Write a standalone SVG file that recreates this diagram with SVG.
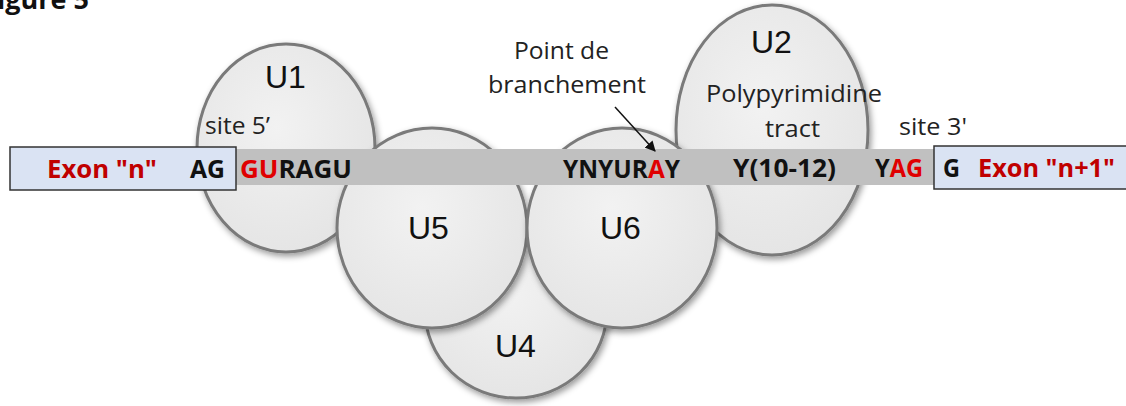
<svg xmlns="http://www.w3.org/2000/svg" width="1126" height="406" viewBox="0 0 1126 406">
<style>
.snrp{fill:url(#g);stroke:#7a7a7a;stroke-width:3;filter:url(#sh)}
.ul{font-family:"Liberation Sans",Arial,sans-serif;font-size:32px;fill:#111}
.lb{font-family:"Open Sans","Liberation Sans",sans-serif;font-size:23px;fill:#222}
.sq{font-family:"Open Sans","Liberation Sans",sans-serif;font-size:25px;font-weight:bold;fill:#111}
.red{fill:#c00000}
.rd{fill:#e00000}
.box{fill:#dae3f3;stroke:#333;stroke-width:1.5}
</style>
<defs>
<radialGradient id="g" cx="0.45" cy="0.4" r="0.65">
<stop offset="0" stop-color="#f2f2f2"/>
<stop offset="1" stop-color="#e4e4e4"/>
</radialGradient>
<filter id="sh" x="-20%" y="-20%" width="140%" height="140%">
<feDropShadow dx="2" dy="3" stdDeviation="3" flood-color="#000" flood-opacity="0.4"/>
</filter>
<marker id="ah" viewBox="0 0 10 10" refX="9" refY="5" markerWidth="7" markerHeight="7" orient="auto">
<path d="M0,0 L10,5 L0,10 z" fill="#111"/>
</marker>
</defs>
<rect width="1126" height="406" fill="#fff"/>
<text x="89" y="9" text-anchor="end" font-family="Open Sans,Liberation Sans,sans-serif" font-weight="bold" font-size="27" fill="#111">Figure 5</text>

<g id="U4"><ellipse class="snrp" cx="516" cy="310" rx="91" ry="88"/><text class="ul" x="495" y="357">U4</text></g>
<g id="U1"><ellipse class="snrp" cx="286" cy="148" rx="89" ry="104"/><text class="ul" x="265" y="88">U1</text></g>
<g id="U2"><ellipse class="snrp" cx="772" cy="130" rx="96" ry="125"/><text class="ul" x="751" y="53">U2</text></g>
<g id="U5"><ellipse class="snrp" cx="432" cy="228" rx="95" ry="100"/><text class="ul" x="408" y="239">U5</text></g>
<g id="U6"><ellipse class="snrp" cx="622" cy="228" rx="95" ry="100"/><text class="ul" x="600" y="239">U6</text></g>

<g id="intron"><rect x="230" y="149" width="710" height="36" fill="#c0c0c0"/></g>
<g id="exon-n"><rect class="box" x="10" y="147" width="226" height="43"/></g>
<g id="exon-n1"><rect class="box" x="934" y="146" width="200" height="43"/></g>

<g id="labels">
<text class="sq red" x="47" y="178" textLength="110" lengthAdjust="spacingAndGlyphs">Exon "n"</text>
<text class="sq" x="190" y="178" textLength="35" lengthAdjust="spacingAndGlyphs">AG</text>
<text class="sq" x="240" y="178" textLength="112" lengthAdjust="spacingAndGlyphs"><tspan class="rd">GU</tspan>RAGU</text>
<text class="lb" x="205" y="134" textLength="65" lengthAdjust="spacingAndGlyphs">site 5’</text>
<text class="lb" x="514" y="59" textLength="95" lengthAdjust="spacingAndGlyphs">Point de</text>
<text class="lb" x="488" y="93" textLength="158" lengthAdjust="spacingAndGlyphs">branchement</text>
<text class="sq" x="563" y="178" textLength="117" lengthAdjust="spacingAndGlyphs">YNYUR<tspan class="rd">A</tspan>Y</text>
<text class="lb" x="706" y="102" textLength="176" lengthAdjust="spacingAndGlyphs">Polypyrimidine</text>
<text class="lb" x="765" y="137" textLength="55" lengthAdjust="spacingAndGlyphs">tract</text>
<text class="sq" x="733" y="177" textLength="103" lengthAdjust="spacingAndGlyphs">Y(10-12)</text>
<text class="lb" x="899" y="135" textLength="68" lengthAdjust="spacingAndGlyphs">site 3'</text>
<text class="sq" x="875" y="177" textLength="48" lengthAdjust="spacingAndGlyphs">Y<tspan class="rd">AG</tspan></text>
<text class="sq" x="943" y="177" textLength="17" lengthAdjust="spacingAndGlyphs">G</text>
<text class="sq red" x="978" y="177" textLength="137" lengthAdjust="spacingAndGlyphs">Exon "n+1"</text>
</g>

<g id="connectors">
<line x1="615" y1="107" x2="655" y2="151" stroke="#111" stroke-width="1.5" marker-end="url(#ah)"/>
</g>
</svg>
